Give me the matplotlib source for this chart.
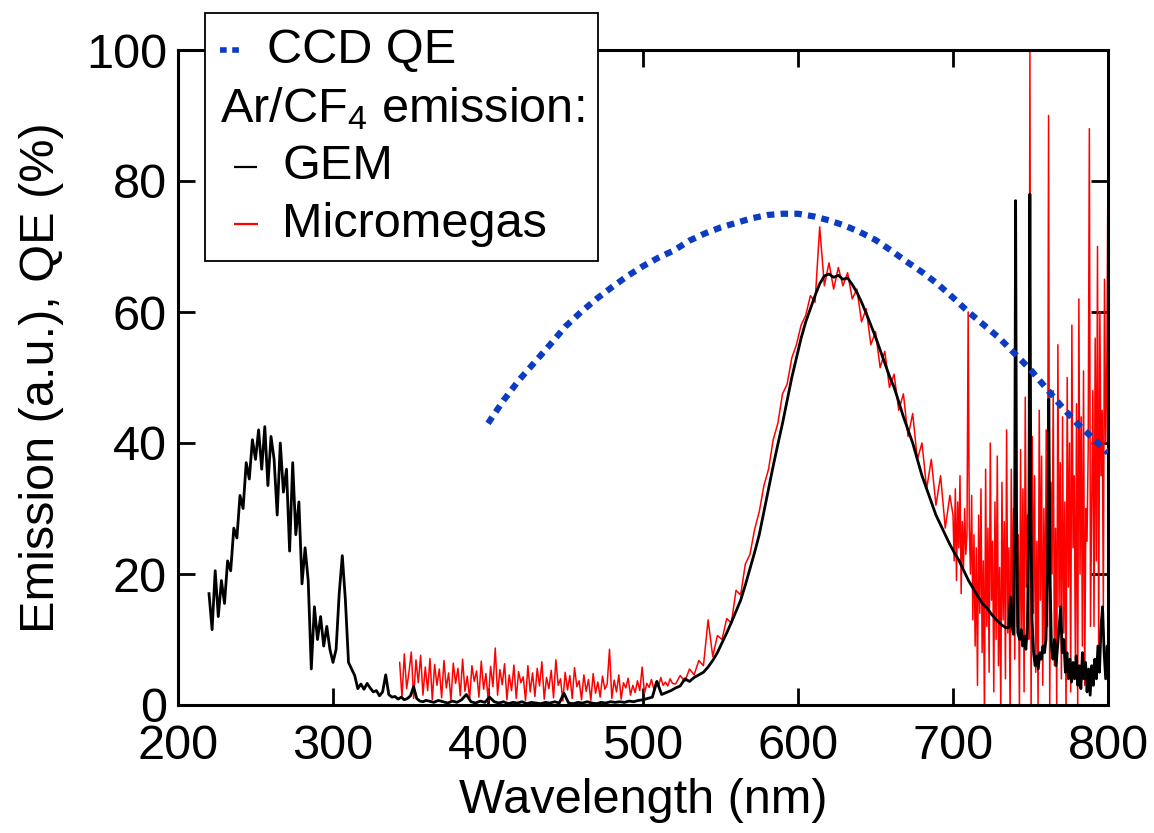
import numpy as np
import matplotlib
matplotlib.use('Agg')
import matplotlib.pyplot as plt
from matplotlib.offsetbox import AnchoredOffsetbox, VPacker, HPacker, TextArea, DrawingArea
from matplotlib.lines import Line2D

plt.rcParams['font.family'] = ['Liberation Sans', 'DejaVu Sans']
plt.rcParams['mathtext.default'] = 'regular'
plt.rcParams['font.size'] = 35

# CCD quantum efficiency (%)
qe_wl = [400, 410, 420, 430, 440, 450, 460, 470, 480, 490, 500, 510, 520, 530, 540,
         550, 560, 570, 580, 590, 600, 610, 620, 630, 640, 650, 660, 670, 680, 690,
         700, 710, 720, 730, 740, 750, 760, 770, 780, 790, 800]
qe_val = [43.0, 46.5, 49.6, 52.3, 55.0, 57.8, 60.0, 62.0, 63.8, 65.5, 67.0, 68.3, 69.4, 70.9, 72.0,
          72.9, 73.6, 74.3, 74.8, 75.0, 75.0, 74.6, 74.0, 73.2, 72.2, 71.0, 69.4, 67.7, 66.1, 64.3,
          62.2, 60.0, 58.0, 56.0, 53.6, 51.2, 48.4, 45.6, 43.0, 40.8, 38.5]

# GEM emission, 220-360 nm (2 nm steps)
gem_val_a = [17, 11.5, 20.5, 13.5, 19, 15.5, 22, 20.5, 27, 25.5,
             32, 30, 37, 34.5, 40.5, 37.5, 42, 36, 42.5, 33.5,
             41, 37.5, 29, 40, 32.5, 36, 23.5, 37, 26, 31,
             18.5, 24, 19, 5.5, 15, 10, 13.5, 9, 12, 8.5,
             6.5, 8.5, 17, 22.8, 16, 6.5, 5.5, 4.5, 2.5, 3.2,
             2.4, 3.3, 2.6, 2.0, 2.2, 1.4, 2.0, 4.6, 1.6, 1.2,
             1.3, 0.9, 1.2, 0.8, 1.0, 1.4, 2.8, 1.0, 0.6, 0.5, 0.7]
# GEM emission, 362-536 nm (3 nm steps)
gem_val_b = [0.6, 0.4, 0.7, 0.5, 0.3, 0.6, 0.4, 0.8, 1.6, 0.5,
             0.3, 0.6, 0.4, 1.2, 0.5, 0.3, 0.5, 0.2, 0.4, 0.3,
             0.5, 0.2, 0.4, 0.3, 0.2, 0.4, 0.3, 0.5, 0.3, 1.8,
             0.3, 0.2, 0.4, 0.3, 0.5, 0.3, 0.2, 0.4, 0.3, 0.5,
             0.4, 0.5, 0.4, 0.6, 0.5, 0.7, 0.8, 1.0, 1.2, 3.6,
             1.6, 1.9, 2.2, 2.6, 2.9, 4.0, 3.6, 4.2, 4.6]
# GEM emission, 539-734 nm (3 nm steps)
gem_val_c = [5.0, 5.8, 6.8, 8.0, 9.5, 11.0, 12.6, 14.3, 16.0, 18.3,
             20.8, 23.3, 26.0, 29.5, 33.0, 36.5, 39.8, 43.0, 46.5, 50.0,
             53.0, 56.0, 58.5, 60.5, 62.5, 64.3, 65.5, 65.8, 65.3, 65.6,
             65.0, 65.2, 64.2, 63.0, 61.5, 59.8, 58.0, 56.2, 54.2, 52.2,
             50.2, 48.5, 46.3, 44.0, 42.0, 40.0, 37.5, 35.0, 33.0, 31.0,
             29.0, 27.5, 26.0, 24.5, 23.2, 22.0, 20.5, 19.0, 17.8, 16.6,
             15.5, 14.8, 13.8, 13.0, 12.3, 11.8]
# GEM emission, atomic-line region
gem_wl_d = [736, 737, 738, 739, 739.8, 740.4, 741, 741.8, 743, 744,
            745, 746, 747, 748, 749, 749.6, 750.2, 751, 752, 753,
            754, 755, 756, 757, 758, 759, 760, 761, 761.8, 762.6,
            763.5, 764.5, 765.5, 766.5, 767.5, 768.5, 769.5, 770.5, 771.5, 772.5,
            773.5, 774.5, 775.5, 776.5, 777.5, 778.5, 779.5, 780.5, 781.5, 782.5,
            783.5, 784.5, 785.5, 786.5, 787.5, 788.5, 789.5, 790.5, 791.5, 792.5,
            793.5, 794.5, 795.5, 796.5, 797.5, 798.5, 799.5, 800]
gem_val_d = [11.8, 16.5, 12, 10.8, 30, 77, 30, 11, 10, 11.5,
             9, 10.5, 8.5, 12, 30, 78, 30, 13, 8, 6,
             7.5, 5.5, 8, 7, 9, 8, 10, 20, 46.7, 20,
             9, 7, 10, 6, 9, 12, 15, 8, 10, 5,
             8, 4, 7, 3.5, 6.5, 4, 7.5, 3, 6, 2.5,
             8, 4, 6.5, 2, 5.5, 1.5, 6, 3, 7, 4,
             9, 5, 12, 15, 8, 4, 9, 6]

# Micromegas emission, 343-519 nm (1.5 nm steps)
mm_val_a = [6.5, 1.2, 7.8, 2.5, 5.0, 8.1, 1.0, 6.9, 3.4, 7.6,
            1.5, 5.8, 2.2, 7.1, 0.8, 6.2, 3.0, 5.5, 1.1, 6.8,
            2.6, 4.9, 0.7, 6.4, 3.3, 5.6, 1.4, 7.0, 2.1, 4.4,
            0.9, 6.0, 3.6, 5.2, 1.2, 6.7, 2.4, 4.8, 0.6, 5.9,
            2.8, 8.7, 1.5, 5.4, 3.1, 6.3, 0.8, 4.6, 2.2, 6.1,
            1.0, 5.1, 3.4, 4.3, 0.7, 6.0, 2.0, 4.9, 1.3, 5.6,
            2.9, 6.6, 0.9, 4.2, 2.5, 5.3, 1.1, 6.9, 3.0, 4.0,
            0.6, 5.0, 2.3, 4.5, 1.0, 5.7, 2.8, 3.7, 0.8, 4.6,
            2.1, 3.9, 0.7, 4.8, 1.8, 3.5, 1.2, 4.4, 2.4, 3.2,
            8.5, 1.0, 3.8, 2.0, 4.6, 0.9, 3.4, 2.6, 4.1, 1.5,
            3.0, 1.9, 3.7, 2.2, 5.8, 1.8, 3.3, 2.7, 3.9, 2.4,
            3.6, 2.8, 4.2, 3.0, 3.5, 2.9, 4.0, 3.3]
# Micromegas emission, 521-698 nm (3 nm steps)
mm_val_b = [3.2, 4.5, 3.6, 5.5, 4.6, 6.8, 6.0, 13.0, 7.4, 10.6,
            10.0, 13.2, 12.5, 17.5, 16.8, 21.5, 23.0, 26.8, 29.5, 33.5,
            36.0, 40.5, 43.0, 47.5, 49.0, 53.0, 55.0, 58.0, 59.5, 62.5,
            61.5, 73.0, 64.0, 67.5, 63.5, 66.8, 64.0, 66.0, 62.0, 63.5,
            58.5, 60.5, 55.0, 57.0, 51.5, 54.0, 48.5, 50.5, 45.0, 47.5,
            41.0, 44.5, 37.5, 40.0, 33.0, 37.5, 30.5, 35.0, 27.0, 32.0]
# Micromegas emission, 700-800 nm (0.75 nm steps)
mm_val_c = [29, 22, 33, 19, 31, 24, 35, 17, 28, 21, 30, 23, 26, 60, 27, 20, 32, 13, 26, 9,
            24, 3, 29, 14, 33, 8, 22, -2, 36, 12, 27, 5, 40, 16, 25, 2, 31, 10, 38, 6,
            21, -1, 34, 13, 28, 4, 42, 11, 24, -2, 36, 15, 30, 7, 44, 12, 26, -1, 39, 9,
            33, 2, 47, 18, 29, 10, 100, -2, 41, 14, 35, 5, 25, 0, 45, 16, 38, 3, 30, 8,
            42, 12, 90, -1, 34, 20, 48, 6, 27, 0, 55, 15, 37, 4, 44, 11, 31, -2, 50, 18,
            40, 2, 58, 24, 35, 7, 46, -1, 62, 20, 44, 9, 51, 3, 30, 25, 39, 88, 12, 30,
            48, 12, 56, 22, 70, 8, 60, 35, 45, 15, 65, 40, 52, 82]

gem_wl = np.concatenate([np.linspace(220, 360, len(gem_val_a)),
                         np.linspace(362, 536, len(gem_val_b)),
                         np.linspace(539, 734, len(gem_val_c)),
                         gem_wl_d])
gem_val = np.concatenate([gem_val_a, gem_val_b, gem_val_c, gem_val_d])
mm_wl = np.concatenate([np.linspace(343, 519, len(mm_val_a)),
                        np.linspace(521, 698, len(mm_val_b)),
                        np.linspace(700, 800, len(mm_val_c))])
mm_val = np.concatenate([mm_val_a, mm_val_b, mm_val_c])

BLUE = '#0b3cc1'
RED = '#ff0000'

fig = plt.figure(figsize=(11.54, 8.33), dpi=100)
ax = fig.add_axes([178 / 1154, 1 - 705 / 833, 930 / 1154, 655 / 833])

ax.plot(mm_wl, mm_val, color=RED, lw=1.1, zorder=2)
ax.plot(gem_wl, gem_val, color='black', lw=2.0, zorder=3)
ax.plot(qe_wl, qe_val, color=BLUE, lw=4.5, linestyle=(0, (1.2, 1.0)),
        dash_capstyle='butt', zorder=4)

ax.set_xlim(200, 800)
ax.set_ylim(0, 100)
ax.set_xticks(range(200, 801, 100))
ax.set_yticks(range(0, 101, 20))
ax.tick_params(direction='in', length=12, width=2, top=True, right=True, labelsize=35)
ax.tick_params(axis='x', pad=14)
ax.tick_params(axis='y', pad=8)
for sp in ax.spines.values():
    sp.set_linewidth(2.2)
ax.set_xlabel('Wavelength (nm)', fontsize=35, labelpad=6)
ax.set_ylabel('Emission (a.u.), QE (%)', fontsize=35, labelpad=16)


# legend built by hand so the middle row has no handle
def handle(color, ls, lw, width, x0, x1):
    da = DrawingArea(width, 20, 0, 0)
    da.add_artist(Line2D([x0, x1], [10, 10], color=color, linestyle=ls, linewidth=lw,
                         solid_capstyle='butt', dash_capstyle='butt'))
    return da


rows = [
    HPacker(children=[handle(BLUE, (0, (1.2, 1.0)), 4.0, 27, 0, 15), TextArea('CCD QE')],
            align='center', pad=0, sep=7),
    TextArea(r'Ar/CF$\mathregular{_4}$ emission:'),
    HPacker(children=[handle('black', '-', 1.6, 38, 10.5, 27), TextArea('GEM')],
            align='center', pad=0, sep=7),
    HPacker(children=[handle(RED, '-', 1.6, 38, 10.5, 28), TextArea('Micromegas')],
            align='center', pad=0, sep=7),
]
box = VPacker(children=rows, align='left', pad=0, sep=9)
leg = AnchoredOffsetbox(loc='upper left', child=box, pad=0.3, borderpad=0, frameon=True,
                        bbox_to_anchor=(205 / 1154, 1 - 13 / 833),
                        bbox_transform=fig.transFigure)
leg.patch.set_boxstyle('square', pad=0)
leg.patch.set_edgecolor('black')
leg.patch.set_linewidth(1.3)
leg.set_zorder(10)
ax.add_artist(leg)

fig.savefig('out.png', dpi=100)
